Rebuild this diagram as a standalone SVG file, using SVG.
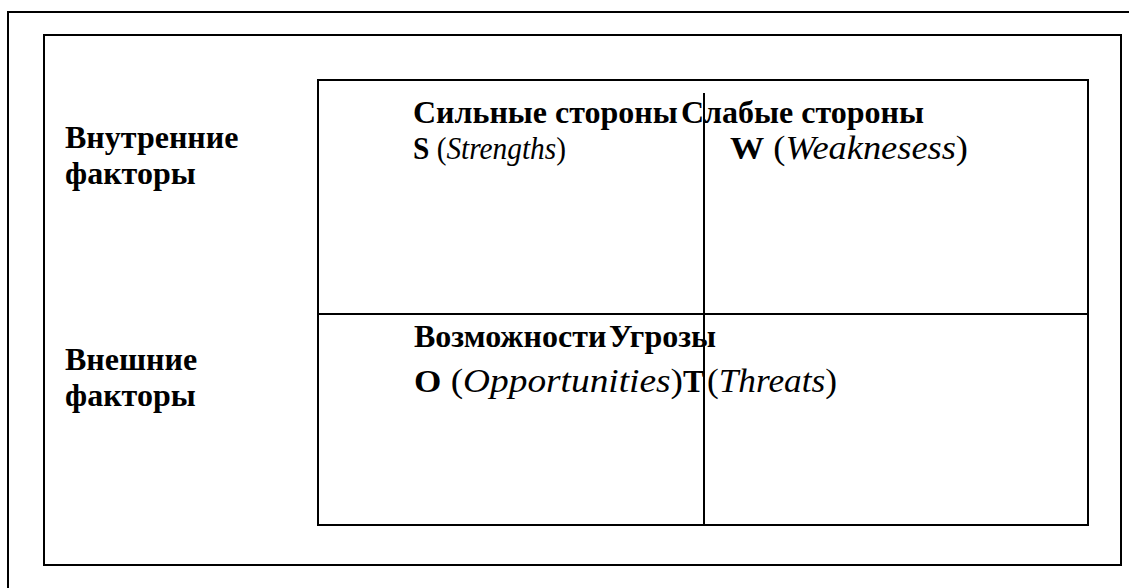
<svg xmlns="http://www.w3.org/2000/svg" width="1129" height="588" viewBox="0 0 1129 588">
<style>
.ln{fill:none;stroke:#000;stroke-width:2}
.t{font-family:"Liberation Serif","Times New Roman",serif;font-size:32px;fill:#000}
.b{font-weight:bold}
.i{font-style:italic}
.big{font-size:34px}
</style>
<rect width="1129" height="588" fill="#fff"/>
<g id="frame">
<rect class="ln" x="8" y="12" width="1130" height="590"/>
<rect class="ln" x="44" y="35" width="1077" height="530"/>
</g>
<g id="matrix">
<rect class="ln" x="318" y="80" width="770" height="445"/>
</g>
<g id="connectors">
<line class="ln" x1="318" y1="314" x2="1088" y2="314"/>
<line class="ln" x1="704" y1="93" x2="704" y2="525"/>
</g>
<g id="internal">
<text class="t b" x="65" y="148">Внутренние</text>
<text class="t b" x="65" y="184">факторы</text>
</g>
<g id="external">
<text class="t b" x="65" y="370">Внешние</text>
<text class="t b" x="65" y="406">факторы</text>
</g>
<g id="strengths">
<text class="t b" x="413" y="123">Сильные стороны</text>
<text class="t" x="413" y="159" textLength="153" lengthAdjust="spacingAndGlyphs"><tspan class="b">S</tspan> (<tspan class="i">Strengths</tspan>)</text>
</g>
<g id="weaknesses">
<text class="t b" x="681" y="123">Слабые стороны</text>
<text class="t big" x="730" y="159" textLength="238" lengthAdjust="spacingAndGlyphs"><tspan class="b" style="font-size:32px">W</tspan> (<tspan class="i">Weaknesess</tspan>)</text>
</g>
<g id="opportunities">
<text class="t b" x="414" y="347">Возможности</text>
<text class="t big" x="414" y="392" textLength="269" lengthAdjust="spacingAndGlyphs"><tspan class="b" style="font-size:32px">O</tspan> (<tspan class="i">Opportunities</tspan>)</text>
</g>
<g id="threats">
<text class="t b" x="609" y="347">Угрозы</text>
<text class="t b" x="683" y="392">T</text>
<text class="t big" x="707" y="392" textLength="130" lengthAdjust="spacingAndGlyphs">(<tspan class="i">Threats</tspan>)</text>
</g>
</svg>
